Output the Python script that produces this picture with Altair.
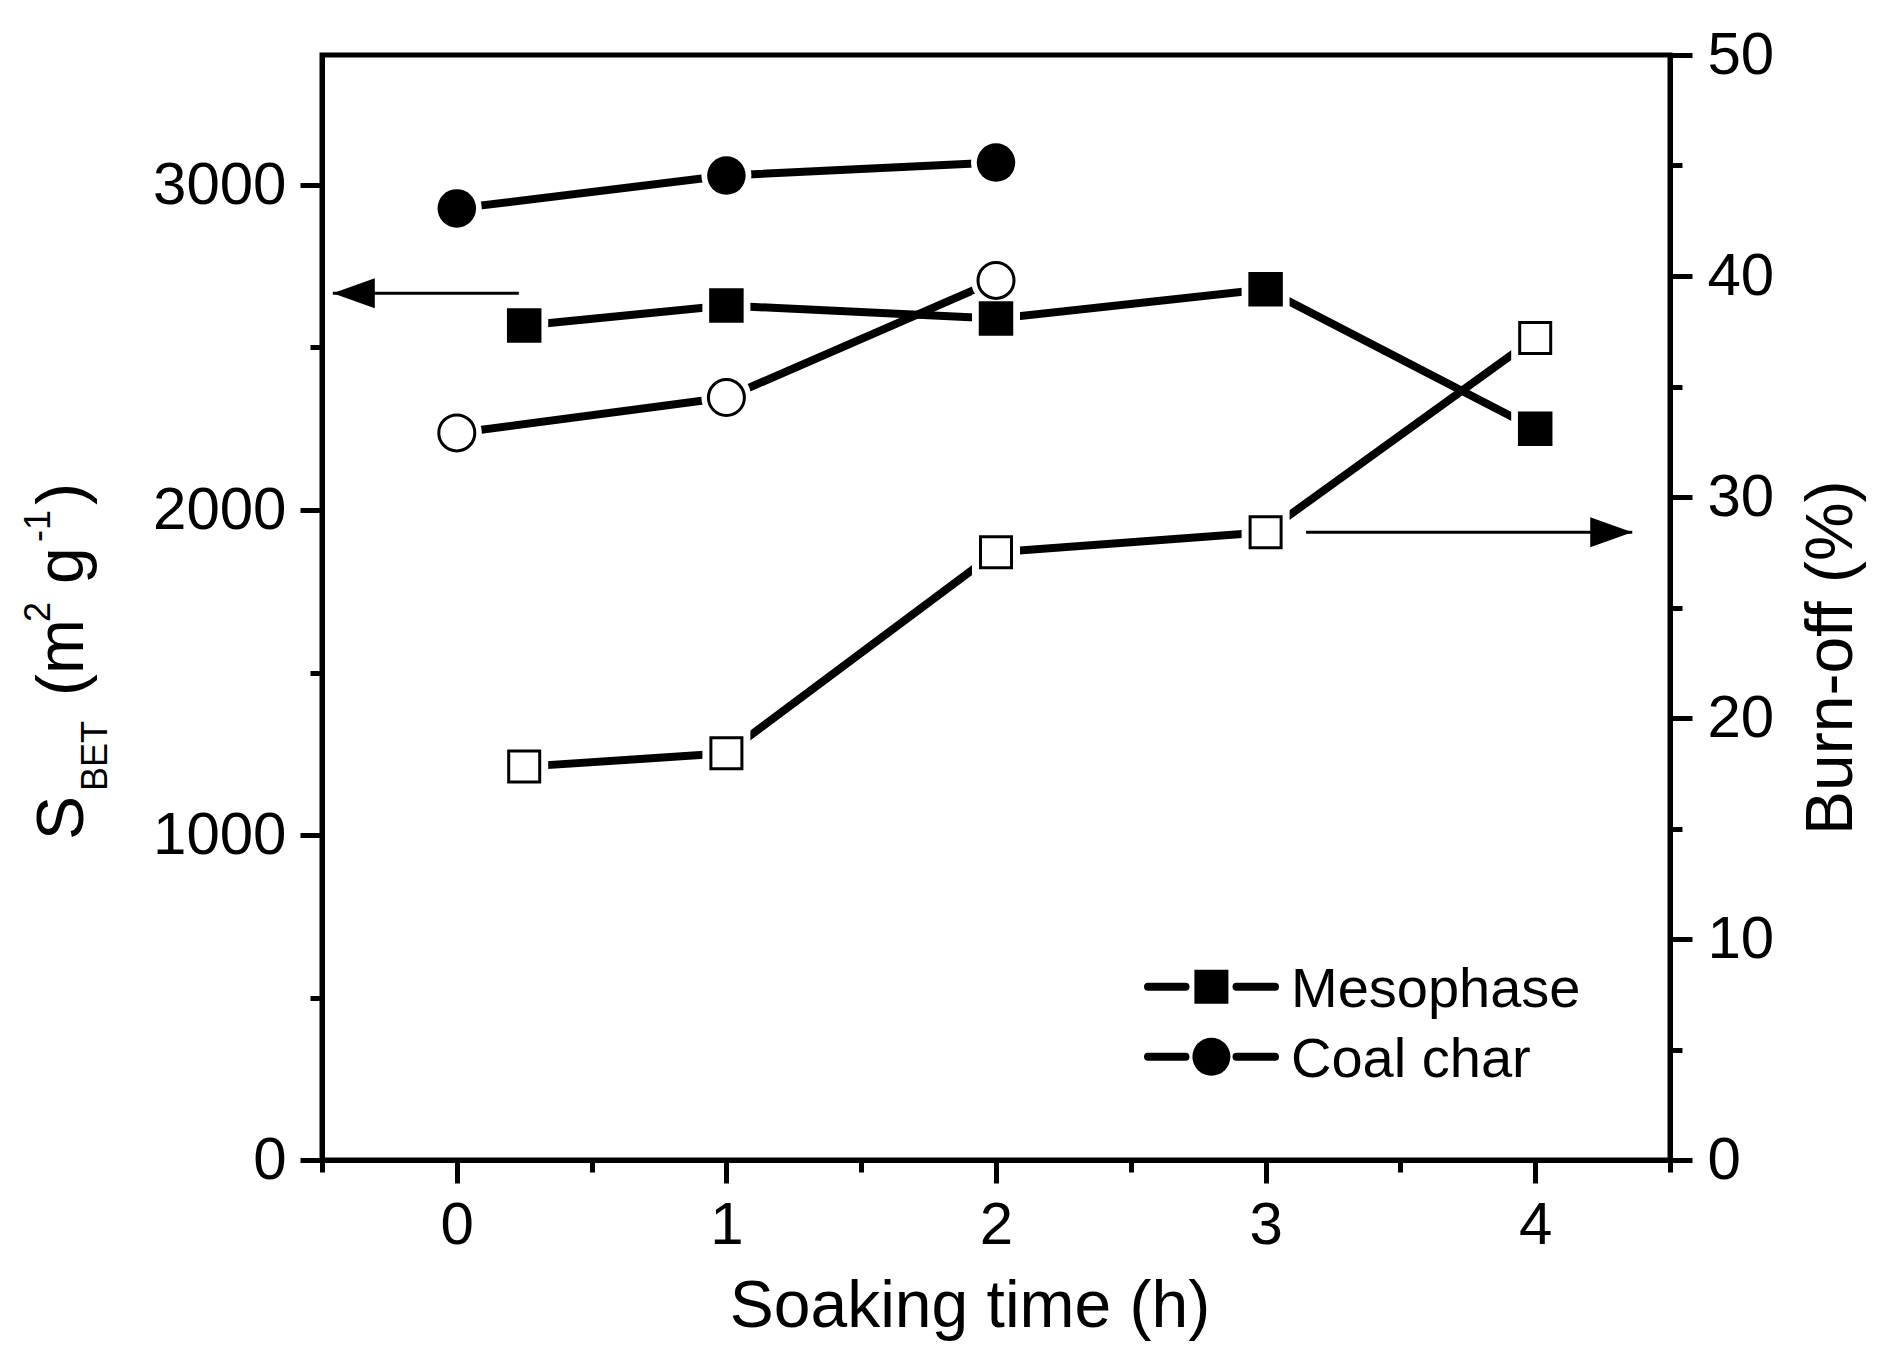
import altair as alt
import pandas as pd

# ---------------- data ----------------
x_meso = [0.25, 1, 2, 3, 4]
sbet_meso = [2568, 2629, 2589, 2679, 2250]
burn_meso = [17.8, 18.4, 27.5, 28.4, 37.2]

x_coal = [0, 1, 2]
sbet_coal = [2928, 3029, 3069]
burn_coal = [32.9, 34.5, 39.8]

series_names = ["Mesophase", "Coal char"]

# annotation arrows (data units)
arrow_left_x = [0.23, -0.46]
arrow_left_y = [2667]
arrow_right_x = [3.15, 4.36]
arrow_right_y = [28.4]

x_ticks = [-0.5, 0, 0.5, 1, 1.5, 2, 2.5, 3, 3.5, 4, 4.5]
left_ticks = [0, 500, 1000, 1500, 2000, 2500, 3000]
right_ticks = [0, 5, 10, 15, 20, 25, 30, 35, 40, 45, 50]

x_title = "Soaking time (h)"
right_title = "Burn-off (%)"
left_title_parts = ["S", "BET", "(m", "2", "g", "-1", ")"]

# ---------------- frames ----------------
df_meso = pd.DataFrame({"x": x_meso, "sbet": sbet_meso, "burn": burn_meso,
                        "series": series_names[0]})
df_coal = pd.DataFrame({"x": x_coal, "sbet": sbet_coal, "burn": burn_coal,
                        "series": series_names[1]})
df_all = pd.concat([df_meso, df_coal], ignore_index=True)
df_arr_l = pd.DataFrame({"x": [arrow_left_x[0]], "x2": [arrow_left_x[1]], "y": arrow_left_y})
df_arr_r = pd.DataFrame({"x": [arrow_right_x[0]], "x2": [arrow_right_x[1]], "y": arrow_right_y})

FONT = "Liberation Sans"
W, H = 1348, 1105
HALO = "white"

xs = alt.Scale(domain=[-0.5, 4.5], nice=False, zero=False)
ysl = alt.Scale(domain=[0, 3400], nice=False, zero=False)
ysr = alt.Scale(domain=[0, 50], nice=False, zero=False)

common_axis = dict(title=None, grid=False, domainColor="black", domainWidth=5,
                   tickColor="black", tickWidth=5, labelFont=FONT, labelFontSize=60,
                   labelColor="black", labelFlush=False, labelOverlap=False)

xaxis = alt.Axis(values=x_ticks, orient="bottom",
                 tickSize={"condition": {"test": "datum.value % 1 === 0", "value": 23}, "value": 12},
                 labelExpr="datum.value % 1 === 0 ? format(datum.value, 'd') : ''",
                 labelPadding=13, **common_axis)
yaxis_l = alt.Axis(values=left_ticks, orient="left",
                   tickSize={"condition": {"test": "datum.value % 1000 === 0", "value": 22}, "value": 12},
                   labelExpr="datum.value % 1000 === 0 ? format(datum.value, 'd') : ''",
                   labelPadding=14, **common_axis)
yaxis_r = alt.Axis(values=right_ticks, orient="right",
                   tickSize={"condition": {"test": "datum.value % 10 === 0", "value": 22}, "value": 12},
                   labelExpr="datum.value % 10 === 0 ? format(datum.value, 'd') : ''",
                   labelPadding=15, **common_axis)

X = alt.X("x:Q", scale=xs, axis=xaxis)

# ---------------- data layers ----------------
lines_l = alt.Chart(df_all).mark_line(color="black", strokeWidth=8, strokeCap="round",
                                      strokeJoin="round").encode(
    x=X, y=alt.Y("sbet:Q", scale=ysl, axis=yaxis_l), detail="series:N")
lines_r = alt.Chart(df_all).mark_line(color="black", strokeWidth=8, strokeCap="round",
                                      strokeJoin="round").encode(
    x=X, y=alt.Y("burn:Q", scale=ysr, axis=yaxis_r), detail="series:N")

YL = alt.Y("sbet:Q", scale=ysl, axis=None)
YR = alt.Y("burn:Q", scale=ysr, axis=None)

def pts(df, y, **kw):
    return alt.Chart(df).mark_point(opacity=1, **kw).encode(x=X, y=y)

halo_l_sq = pts(df_meso, YL, shape="square", filled=True, color=HALO, size=2304, strokeWidth=0)
halo_l_ci = pts(df_coal, YL, shape="circle", filled=True, color=HALO, size=2500, strokeWidth=0)
halo_r_sq = pts(df_meso, YR, shape="square", filled=True, color=HALO, size=2304, strokeWidth=0)
halo_r_ci = pts(df_coal, YR, shape="circle", filled=True, color=HALO, size=2500, strokeWidth=0)

mk_l_sq = pts(df_meso, YL, shape="square", filled=True, color="black", size=1190, strokeWidth=0)
mk_l_ci = pts(df_coal, YL, shape="circle", filled=True, color="black", size=1482, strokeWidth=0)
mk_r_sq = pts(df_meso, YR, shape="square", fill="white", stroke="black", size=961, strokeWidth=3)
mk_r_ci = pts(df_coal, YR, shape="circle", fill="white", stroke="black", size=1296, strokeWidth=3)

# arrows
arr_l_line = alt.Chart(df_arr_l).mark_rule(color="black", strokeWidth=3).encode(
    x=X, x2="x2:Q", y=alt.Y("y:Q", scale=ysl, axis=None))
arr_l_head = alt.Chart(df_arr_l).mark_point(shape="M0,0L1,-0.357L1,0.357Z", size=7056,
                                            filled=True, color="black", opacity=1,
                                            strokeWidth=0).encode(
    x=alt.X("x2:Q", scale=xs, axis=xaxis), y=alt.Y("y:Q", scale=ysl, axis=None))
arr_r_line = alt.Chart(df_arr_r).mark_rule(color="black", strokeWidth=3).encode(
    x=X, x2="x2:Q", y=alt.Y("y:Q", scale=ysr, axis=None))
arr_r_head = alt.Chart(df_arr_r).mark_point(shape="M0,0L-1,-0.357L-1,0.357Z", size=7056,
                                            filled=True, color="black", opacity=1,
                                            strokeWidth=0).encode(
    x=alt.X("x2:Q", scale=xs, axis=xaxis), y=alt.Y("y:Q", scale=ysr, axis=None))

# ---------------- text & legend (pixel placed) ----------------
def txt(s, px, py, size, angle=0, align="left"):
    kw = dict(font=FONT, fontSize=size, color="black", align=align, baseline="alphabetic")
    if angle:
        kw["angle"] = angle
    return alt.Chart(pd.DataFrame({"t": [s]})).mark_text(**kw).encode(
        text="t:N", x=alt.value(px), y=alt.value(py))

texts = [
    txt(x_title, 648, 1272, 66, align="center"),
    txt(right_title, 1530, 780, 66, angle=270),
    txt(left_title_parts[0], -239, 785, 66, angle=270),
    txt(left_title_parts[1], -215, 736, 36, angle=270),
    txt(left_title_parts[2], -239, 641, 66, angle=270),
    txt(left_title_parts[3], -272, 567, 36, angle=270),
    txt(left_title_parts[4], -239, 529, 66, angle=270),
    txt(left_title_parts[5], -272, 487, 36, angle=270),
    txt(left_title_parts[6], -239, 450, 66, angle=270),
]

def leg_row(name, py, shape, size):
    d = pd.DataFrame({"t": [name]})
    seg1 = alt.Chart(d).mark_rule(color="black", strokeWidth=8, strokeCap="round").encode(
        x=alt.value(826), x2=alt.value(863.5), y=alt.value(py))
    seg2 = alt.Chart(d).mark_rule(color="black", strokeWidth=8, strokeCap="round").encode(
        x=alt.value(914.5), x2=alt.value(953), y=alt.value(py))
    mk = alt.Chart(d).mark_point(shape=shape, filled=True, color="black", opacity=1,
                                 size=size, strokeWidth=0).encode(
        x=alt.value(889.4), y=alt.value(py))
    lab = alt.Chart(d).mark_text(font=FONT, fontSize=56, color="black", align="left",
                                 baseline="alphabetic").encode(
        text="t:N", x=alt.value(969), y=alt.value(py + 20))
    return [seg1, seg2, mk, lab]

legend = leg_row(series_names[0], 931.7, "square", 1156) + \
    leg_row(series_names[1], 1001.7, "circle", 1444)

chart = alt.layer(
    lines_l, lines_r,
    arr_l_line, arr_l_head, arr_r_line, arr_r_head,
    halo_l_sq, halo_l_ci, halo_r_sq, halo_r_ci,
    mk_l_sq, mk_l_ci, mk_r_sq, mk_r_ci,
    *texts, *legend
).resolve_scale(y="independent").resolve_axis(y="independent").properties(
    width=W, height=H,
    autosize=alt.AutoSizeParams(type="none"),
    padding={"left": 314, "top": 47, "right": 210, "bottom": 200},
    background="white",
).configure_view(stroke="black", strokeWidth=5)

chart.save("out.html", embed_options={"renderer": "svg", "actions": False})
